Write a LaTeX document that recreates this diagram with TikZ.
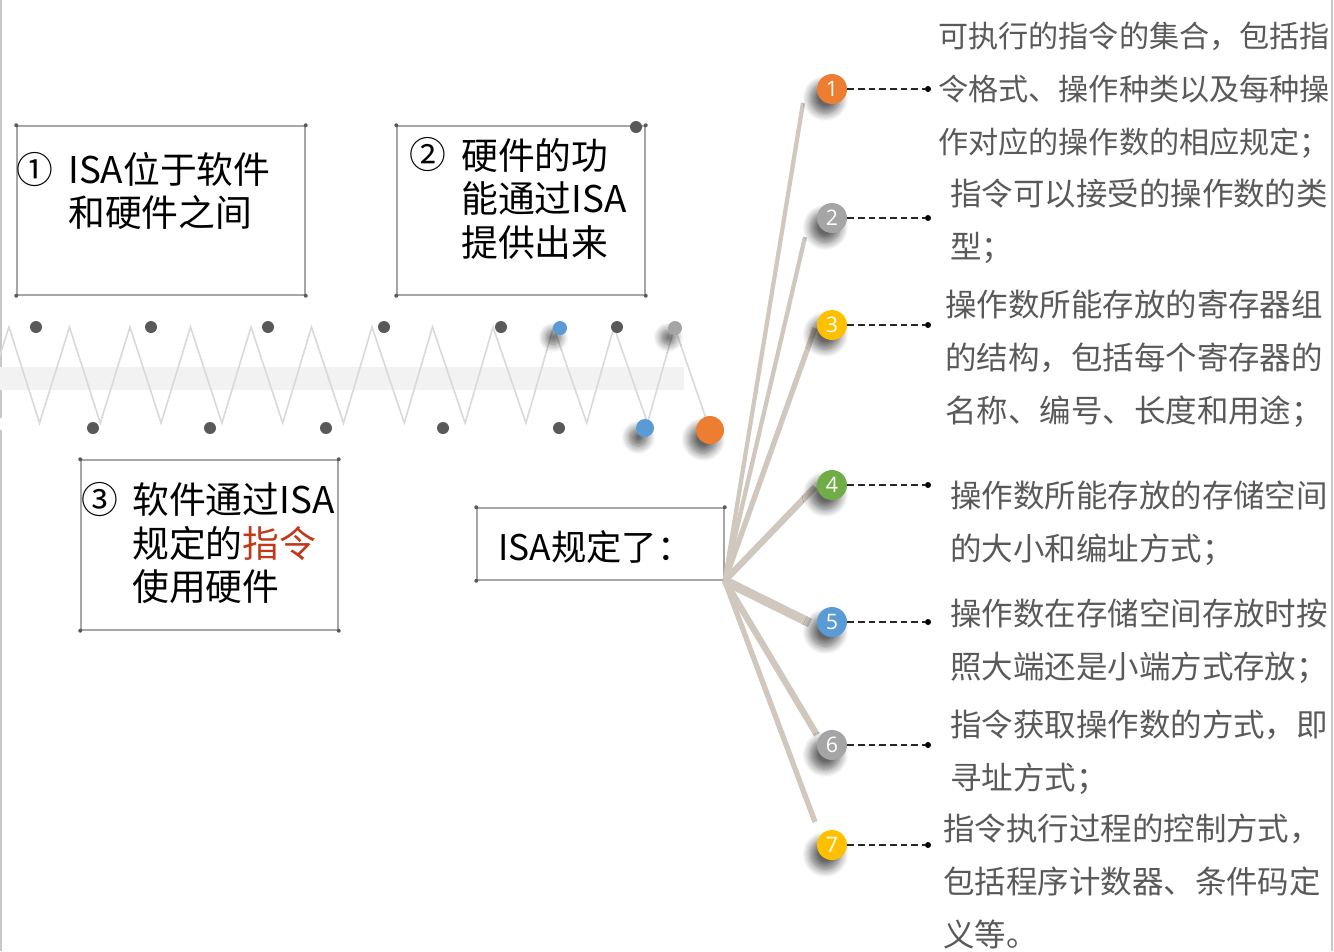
\documentclass[tikz,border=0pt]{standalone}
\usepackage{fontspec}
\setmainfont{Noto Sans CJK SC}
\newfontfamily\numfont{Open Sans}
\usetikzlibrary{shadows.blur}
\definecolor{fanc}{RGB}{208,199,190}
\definecolor{txtg}{RGB}{89,89,89}
\definecolor{boxg}{RGB}{166,166,166}
\definecolor{dotd}{RGB}{89,89,89}
\definecolor{corange}{RGB}{237,125,49}
\definecolor{cgrey}{RGB}{165,165,165}
\definecolor{cyellow}{RGB}{255,192,0}
\definecolor{cgreen}{RGB}{112,173,71}
\definecolor{cblue}{RGB}{91,155,213}
\definecolor{cred}{RGB}{192,57,27}
\definecolor{zz}{RGB}{217,217,217}
\definecolor{bandc}{RGB}{242,242,242}
\definecolor{edgec}{RGB}{200,200,200}
\begin{document}
\begin{tikzpicture}[x=0.75pt,y=-0.75pt,
  sh/.style={blur shadow={shadow xshift=-5pt, shadow yshift=-7pt, shadow blur radius=6pt, shadow blur steps=10, shadow opacity=60}},
  numc/.style={circle, minimum size=22.5pt, inner sep=0pt, text=white,
    font=\numfont\fontsize{16}{16}\selectfont, sh},
  endpt/.style={circle, fill=black, minimum size=4.5pt, inner sep=0pt},
  dashc/.style={dash pattern=on 5pt off 3pt, line width=1.2pt, black!85},
  fan/.style={draw=fanc, line cap=butt},
  boxr/.style={draw=boxg, line width=1.1pt, inner sep=0pt},
  cdot/.style={circle, fill=dotd, minimum size=3pt, inner sep=0pt},
  desc/.style={anchor=west, align=left, text=txtg, inner sep=0pt,
    font=\fontsize{23.6}{39.75}\selectfont},
  boxtxt/.style={anchor=west, align=left, inner sep=0pt,
    font=\fontsize{27.6}{32.6}\selectfont},
  circnum/.style={anchor=center, inner sep=0pt, font=\fontsize{27.6}{32.6}\selectfont},
  zdot/.style={circle, fill=dotd, minimum size=9pt, inner sep=0pt}
]
\useasboundingbox (0,0) rectangle (1334,951);
% edges
\draw[edgec, line width=1.5pt] (1,0) -- (1,418) (1,430) -- (1,951);
\draw[edgec, line width=1.5pt] (1332,0) -- (1332,951);

% band and zigzag
\fill[bandc] (0,367) rectangle (684,390);
\begin{scope}
\clip (0,0) rectangle (1334,951);
\draw[zz, line width=1.2pt, line join=miter]
  (-21.5,423)
  \foreach \k in {0,...,10}{ -- ({9+60.5*\k},327) -- ({39.5+60.8*\k},423) }
  -- (674.5,327) -- (710,430);
\end{scope}

% dots on the zigzag
\foreach \x [count=\i] in {36,151,268,384,501,617}
  \node[zdot] (td\i) at (\x,327) {};
\foreach \x [count=\i] in {93,210,326,443,559}
  \node[zdot] (bd\i) at (\x,428) {};
\node[circle, fill=cblue, minimum size=10.5pt, inner sep=0pt, sh] (tb) at (560,328) {};
\node[circle, fill=cgrey, minimum size=10.5pt, inner sep=0pt, sh] (tg) at (675,328) {};
\node[circle, fill=cblue, minimum size=13.5pt, inner sep=0pt, sh] (bb) at (645,428) {};
\node[circle, fill=corange, minimum size=21pt, inner sep=0pt, sh] (bo) at (710,430) {};

% boxes
\node[boxr, minimum width=216pt, minimum height=126.75pt] (b1) at (161,210.5) {};
\node[boxr, minimum width=186pt, minimum height=126.75pt] (b2) at (521,210.5) {};
\node[boxr, minimum width=192.75pt, minimum height=127.5pt] (b3) at (209.5,545) {};
\node[boxr, minimum width=185.25pt, minimum height=54pt] (b4) at (600.5,544) {};
\foreach \b in {b1,b2,b3,b4}{
  \foreach \a in {north west,north east,south west,south east}
    \node[cdot] at (\b.\a) {};
}
\node[zdot] (b2dot) at (636,127) {};

% box texts
\node[circnum] (n1) at (35,170) {①};
\node[boxtxt] (t1) at (68,191) {ISA位于软件\\和硬件之间};
\node[circnum] (n2) at (428,155) {②};
\node[boxtxt] (t2) at (461,198.5) {硬件的功\\能通过ISA\\提供出来};
\node[circnum] (n3) at (100,500) {③};
\node[boxtxt] (t3) at (132,543.5) {软件通过ISA\\规定的\textcolor{cred}{指令}\\使用硬件};
\node[anchor=west, inner sep=0pt, font=\fontsize{26.5}{30}\selectfont] (t4) at (498,547) {ISA规定了：};

% fan
\coordinate (hub) at (b4.south east);
\coordinate (e1) at (803,103);
\coordinate (e2) at (805,237);
\coordinate (e3) at (815,328);
\coordinate (e4) at (815,487);
\coordinate (e5) at (810,623);
\coordinate (e6) at (817,735);
\coordinate (e7) at (815,822);
\draw[fan, line width=3.2pt] (hub) -- (e1);
\draw[fan, line width=3.2pt] (hub) -- (e2);
\draw[fan, line width=4pt] (hub) -- (e3);
\draw[fan, line width=4.8pt] (hub) -- (e4);
\draw[fan, line width=7pt] (hub) -- (e5);
\draw[fan, line width=4.8pt] (hub) -- (e6);
\draw[fan, line width=4pt] (hub) -- (e7);

% numbered circles
\foreach \y/\c [count=\i] in {89/corange,218/cgrey,325/cyellow,485/cgreen,622/cblue,745/cgrey,845/cyellow}{
  \node[numc, fill=\c] (c\i) at (832,\y) {\i};
  \node[endpt] (d\i) at (928,\y) {};
  \draw[dashc] (c\i.east) -- (d\i);
}

% descriptions
\node[desc, font=\fontsize{22.6}{39.75}\selectfont] (x1) at (938,90) {可执行的指令的集合，包括指\\令格式、操作种类以及每种操\\作对应的操作数的相应规定；};
\node[desc] (x2) at (950,221.5) {指令可以接受的操作数的类\\型；};
\node[desc] (x3) at (945,359) {操作数所能存放的寄存器组\\的结构，包括每个寄存器的\\名称、编号、长度和用途；};
\node[desc] (x4) at (950,523.5) {操作数所能存放的存储空间\\的大小和编址方式；};
\node[desc] (x5) at (950,641.5) {操作数在存储空间存放时按\\照大端还是小端方式存放；};
\node[desc] (x6) at (950,752.5) {指令获取操作数的方式，即\\寻址方式；};
\node[desc] (x7) at (943,881.5) {指令执行过程的控制方式，\\包括程序计数器、条件码定\\义等。};
\end{tikzpicture}
\end{document}
